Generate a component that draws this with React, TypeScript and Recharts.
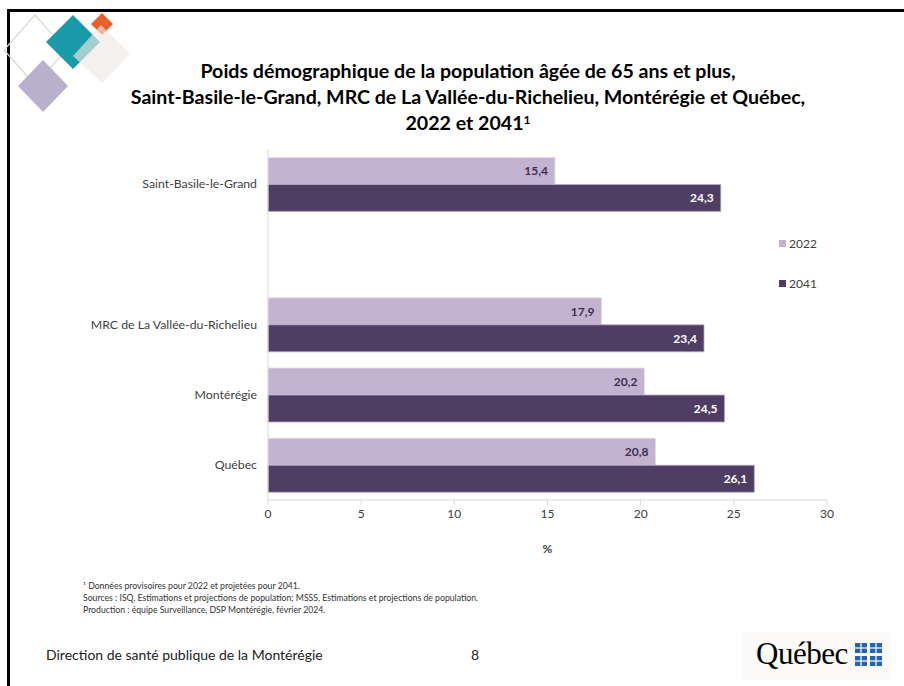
import React from "react";
import { BarChart, Bar, XAxis, YAxis, Legend, LabelList } from "recharts";

const categories = ["Saint-Basile-le-Grand", " ", "MRC de La Vallée-du-Richelieu", "Montérégie", "Québec"];
const values2022: (number | null)[] = [15.4, null, 17.9, 20.2, 20.8];
const values2041: (number | null)[] = [24.3, null, 23.4, 24.5, 26.1];
const xTicks = [0, 5, 10, 15, 20, 25, 30];
const seriesNames = ["2022", "2041"];

const data = categories.map((c, i) => ({ name: c, v2022: values2022[i], v2041: values2041[i] }));

const FONT = "Lato, 'Open Sans', sans-serif";
const C2022 = "#C3B3D1";
const C2041 = "#4F3D63";

const fmt = (v: any) => (v == null ? "" : String(v).replace(".", ","));

const LegendContent = () => (
  <div style={{ fontFamily: FONT, fontSize: 12, color: "#404040" }}>
    {seriesNames.map((n, i) => (
      <div key={n} style={{ display: "flex", alignItems: "center", height: 16, marginBottom: i === 0 ? 24 : 0 }}>
        <span style={{ display: "inline-block", width: 7, height: 7, background: i === 0 ? C2022 : C2041, marginRight: 3 }} />
        <span>{n}</span>
      </div>
    ))}
  </div>
);

const Deco = () => (
  <svg width={140} height={120} style={{ position: "absolute", left: 0, top: 0 }}>
    <polygon points="35,15 66,50 35,85 4,50" fill="none" stroke="#d8dccf" strokeWidth={1.2} />
    <polygon points="43,60 68,86 43,112 18,86" fill="#b9b1cc" />
    <polygon points="73,15 100,42 73,69 46,42" fill="#1a9aa8" />
    <polygon points="102,13 113,24 102,35 91,24" fill="#e8602c" />
    <polygon points="101,25 130,54 102,83 73,56" fill="#ece8e4" fillOpacity={0.65} />
  </svg>
);

const Flag = ({ x, y }: { x: number; y: number }) => (
  <g>
    <rect x={x} y={y} width={12} height={10} fill="#2463ad" />
    <rect x={x + 5.4} y={y} width={1.2} height={10} fill="#fff" />
    <rect x={x} y={y + 4.4} width={12} height={1.2} fill="#fff" />
  </g>
);

export default function App() {
  return (
    <div style={{ position: "fixed", left: 0, top: 0, width: 904, height: 686, background: "#fff", overflow: "hidden" }}>
      <div style={{ position: "absolute", left: 7, top: 9, width: 897, height: 677, borderTop: "3px solid #000", borderLeft: "3px solid #000", boxSizing: "border-box" }} />
      <Deco />
      <div style={{ position: "absolute", left: 32, top: 58, width: 872, textAlign: "center", fontFamily: FONT, fontWeight: 700, fontSize: 19.6, lineHeight: "26px", color: "#000" }}>
        Poids démographique de la population âgée de 65 ans et plus,<br />
        Saint-Basile-le-Grand, MRC de La Vallée-du-Richelieu, Montérégie et Québec,<br />
        2022 et 2041<sup style={{ fontSize: 12, verticalAlign: "top", lineHeight: "20px" }}>1</sup>
      </div>
      <div style={{ position: "absolute", left: 0, top: 0 }}>
        <BarChart width={904} height={570} data={data} layout="vertical" margin={{ top: 149, right: 77, left: 18, bottom: 0 }} barCategoryGap="12%" barGap={0}>
          <XAxis type="number" domain={[0, 30]} ticks={xTicks} height={70} tickSize={5} tickMargin={4} stroke="#d9d9d9" tick={{ fill: "#404040", fontSize: 12, fontFamily: FONT }} label={{ value: "%", position: "insideBottom", offset: 17, fill: "#404040", fontSize: 12, fontWeight: 700, fontFamily: FONT }} />
          <YAxis type="category" dataKey="name" width={250} tickLine={false} tickMargin={5} stroke="#d9d9d9" tick={{ fill: "#404040", fontSize: 12.3, fontFamily: FONT }} />
          <Legend layout="vertical" align="center" verticalAlign="middle" content={<LegendContent />} wrapperStyle={{ position: "absolute", left: 779, top: 235, width: 60 }} />
          <Bar dataKey="v2022" name="2022" fill={C2022} stroke="#e4dcec" strokeWidth={0.8} isAnimationActive={false}>
            <LabelList dataKey="v2022" position="insideRight" offset={7} formatter={fmt} fill="#3d2f4f" fontSize={12} fontWeight={700} fontFamily={FONT} />
          </Bar>
          <Bar dataKey="v2041" name="2041" fill={C2041} stroke="#b7abc6" strokeWidth={0.8} isAnimationActive={false}>
            <LabelList dataKey="v2041" position="insideRight" offset={7} formatter={fmt} fill="#ffffff" fontSize={12} fontWeight={700} fontFamily={FONT} />
          </Bar>
        </BarChart>
      </div>
      <div style={{ position: "absolute", left: 83, top: 580, fontFamily: FONT, fontSize: 8.7, lineHeight: "12px", color: "#333" }}>
        <div>¹ Données provisoires pour 2022 et projetées pour 2041.</div>
        <div>Sources : ISQ, Estimations et projections de population; MSSS, Estimations et projections de population.</div>
        <div>Production : équipe Surveillance, DSP Montérégie, février 2024.</div>
      </div>
      <div style={{ position: "absolute", left: 46, top: 646, fontFamily: FONT, fontSize: 14, color: "#222" }}>Direction de santé publique de la Montérégie</div>
      <div style={{ position: "absolute", left: 471, top: 646, fontFamily: FONT, fontSize: 14, color: "#222" }}>8</div>
      <div style={{ position: "absolute", left: 742, top: 632, width: 150, height: 48, background: "#fbfaf8" }} />
      <div style={{ position: "absolute", left: 756, top: 636, fontFamily: "'Liberation Serif', serif", fontSize: 31, color: "#000", letterSpacing: -0.5 }}>Québec</div>
      <svg width={40} height={30} style={{ position: "absolute", left: 852, top: 641 }}>
        <Flag x={3} y={2} />
        <Flag x={18} y={2} />
        <Flag x={3} y={15} />
        <Flag x={18} y={15} />
      </svg>
    </div>
  );
}
